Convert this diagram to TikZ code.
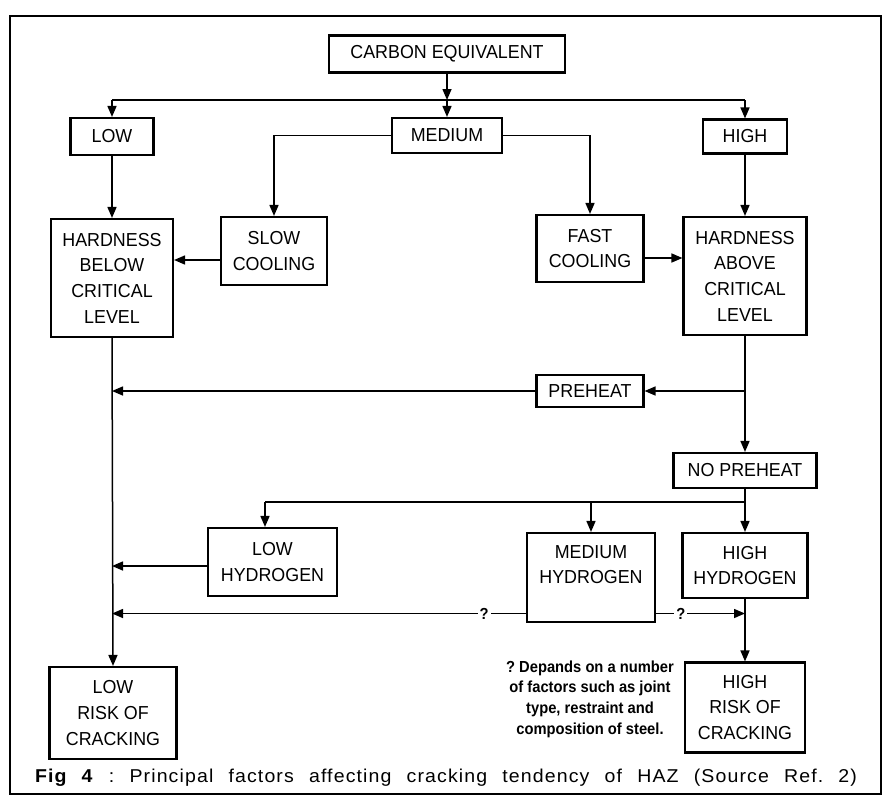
\documentclass[tikz,border=0pt]{standalone}
\usepackage{fontspec}
\setmainfont{Liberation Sans}
\newfontfamily\boxfont[FakeStretch=0.95]{Liberation Sans}
\newfontfamily\notefont[FakeStretch=0.92]{Liberation Sans}
\newfontfamily\capfont[FakeStretch=1.05,LetterSpace=6]{Liberation Sans}
\usetikzlibrary{arrows.meta,calc}
\frenchspacing
\begin{document}
\begin{tikzpicture}[x=1pt,y=-1pt,
  box/.style={draw, line width=2.1pt, inner sep=0pt, align=center,
    font=\boxfont\fontsize{18.8}{25.7}\selectfont},
  conn/.style={line width=1.5pt},
  arr/.style={conn, -{Triangle[length=11pt,width=9pt]}},
  qlabel/.style={fill=white, inner sep=2pt, font=\notefont\bfseries\fontsize{16}{18}\selectfont},
  note/.style={align=center, inner sep=0pt, font=\notefont\bfseries\fontsize{16}{20.7}\selectfont},
]
\useasboundingbox (0,0) rectangle (886,798);
\draw[line width=1.3pt] (10,16) rectangle (881,794);

\node[box, minimum width=236, minimum height=37] (ce) at (447,54) {CARBON EQUIVALENT};
\node[box, minimum width=83, minimum height=37] (low) at (112,136.5) {LOW};
\node[box, minimum width=110, minimum height=35] (med) at (447,135.5) {MEDIUM};
\node[box, minimum width=84, minimum height=34] (high) at (745,136.5) {HIGH};
\node[box, minimum width=106, minimum height=68] (slow) at (274,251) {SLOW\\COOLING};
\node[box, minimum width=107, minimum height=67] (fast) at (590,248.5) {FAST\\COOLING};
\node[box, minimum width=122, minimum height=118] (hb) at (112,278) {HARDNESS\\BELOW\\CRITICAL\\LEVEL};
\node[box, minimum width=123, minimum height=118] (ha) at (745,276) {HARDNESS\\ABOVE\\CRITICAL\\LEVEL};
\node[box, minimum width=107, minimum height=32] (pre) at (590,391) {PREHEAT};
\node[box, minimum width=143, minimum height=35] (nopre) at (745,470.5) {NO PREHEAT};
\node[box, minimum width=129, minimum height=68] (lh) at (272.5,562) {LOW\\HYDROGEN};
\node[box, minimum width=128, minimum height=89] (mh) at (591,577.5) {MEDIUM\\HYDROGEN\\\mbox{}};
\node[box, minimum width=125, minimum height=65] (hh) at (745,565.5) {HIGH\\HYDROGEN};
\node[box, minimum width=127, minimum height=92] (lr) at (113,713) {LOW\\RISK OF\\CRACKING};
\node[box, minimum width=120, minimum height=90] (hr) at (745,707.5) {HIGH\\RISK OF\\CRACKING};

\node[note] (note) at (590,699) {? Depands on a number\\of factors such as joint\\type, restraint and\\composition of steel.};

\node[inner sep=0pt] (cap) at (446,778) {\capfont\fontsize{18.6}{20}\selectfont\makebox[822pt][s]{\textbf{Fig 4} : Principal factors affecting cracking tendency of HAZ (Source Ref. 2)}};

% top distribution
\coordinate (topbar) at (447,100);
\draw[conn] (low.north |- topbar) -- (high.north |- topbar);
\draw[arr] (ce.south) -- (topbar);
\draw[arr] (topbar) -- (med.north);
\draw[arr] (low.north |- topbar) -- (low.north);
\draw[arr] (high.north |- topbar) -- (high.north);

% medium branches
\draw[arr] (med.west) -| (slow.north);
\draw[arr] (med.east) -| (fast.north);

\draw[arr] (low.south) -- (hb.north);
\draw[arr] (high.south) -- (ha.north);
\path ($(slow.west)+(0,9)$) coordinate (s1);
\draw[arr] (s1) -- (s1 -| hb.east);
\path ($(fast.east)+(0,9.5)$) coordinate (f1);
\draw[arr] (f1) -- (f1 -| ha.west);

% preheat
\coordinate (j1) at (ha.south |- pre.east);
\draw[conn] (ha.south) -- (j1);
\draw[arr] (j1) -- (pre.east);
\draw[arr] (j1) -- (nopre.north);
\draw[arr] (pre.west) -- (pre.west -| hb.south);
\draw[arr] (hb.south) -- (lr.north);

% no preheat distribution
\coordinate (j2) at (745,502);
\coordinate (j2l) at (265,502);
\draw[conn] (nopre.south) -- (j2);
\draw[conn] (j2) -- (j2l);
\draw[arr] (j2l) -- (j2l |- lh.north);
\draw[arr] (mh.north |- j2) -- (mh.north);
\draw[arr] (j2) -- (hh.north);

\path ($(lh.west)+(0,4)$) coordinate (l1);
\draw[arr] (l1) -- (l1 -| hb.south);

\path ($(mh.west)+(0,36)$) coordinate (m1);
\path ($(mh.east)+(0,36)$) coordinate (m2);
\draw[arr] (m1) -- node[qlabel, pos=0.101] (q1) {?} (m1 -| hb.south);
\draw[arr] (m2) -- node[qlabel, pos=0.28] (q2) {?} (m2 -| hh.south);

\draw[arr] (hh.south) -- (hr.north);
\end{tikzpicture}
\end{document}
